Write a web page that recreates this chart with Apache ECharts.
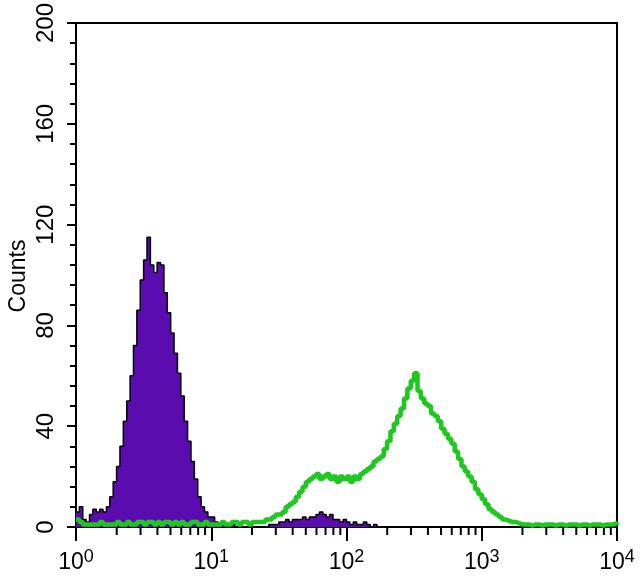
<!DOCTYPE html>
<html><head><meta charset="utf-8">
<script src="https://cdn.jsdelivr.net/npm/echarts@6/dist/echarts.min.js"></script>
<style>html,body{margin:0;padding:0;background:#fff}#c{width:640px;height:577px}</style>
</head><body><div id="c"></div>
<script>
// Histogram bins on a log10 scale: bin i starts at binStartLog + i*binWidthLog decades
const binStartLog = 0;
const binWidthLog = 0.025;

// Isotype control (purple filled histogram)
const isotypeCounts = [
  6, 8, 3, 2, 5, 7, 6, 7, 6, 8,
  12, 18, 24, 32, 42, 50, 60, 72, 86, 98,
  106, 115, 104, 101, 105, 104, 93, 85, 77, 69,
  61, 52, 42, 34, 26, 19, 12, 8, 6, 4,
  4, 2, 1, 1, 0, 0, 1, 0, 0, 0,
  0, 0, 0, 0, 0, 0, 0, 1,
  1, 1, 2, 2, 3, 2, 3, 3, 3, 4, 3, 4, 4, 5, 6, 5, 4, 5, 3, 3, 2, 3, 2, 1, 2, 1, 1, 2, 1, 0, 1, 0,
  0, 0, 0, 0, 0, 0, 0, 0, 0, 0,
  0, 0, 0, 0, 0, 0, 0, 0, 0, 0,
  0, 0, 0, 0, 0, 0, 0, 0, 0, 0,
  0, 0, 0, 0, 0, 0, 0, 0, 0, 0,
  0, 0, 0, 0, 0, 0, 0, 0, 0, 0,
  0, 0, 0, 0, 0, 0, 0, 0, 0, 0,
  0, 0, 0, 0, 0, 0, 0, 0, 0, 0,
  0
];

// Antibody stained sample (green outline)
const antibodyCounts = [
  3, 2, 1, 1, 1, 1, 1, 2, 1, 1,
  1, 1, 2, 1, 1, 2, 1, 1, 2, 2,
  1, 2, 2, 1, 2, 1, 2, 2, 1, 2,
  1, 2, 1, 1, 2, 2, 1, 1, 2, 1,
  1, 1, 1, 2, 1, 1, 2, 2, 1, 2,
  2, 1,
  2, 2, 2, 2, 3, 3, 4, 5, 5, 6, 8, 9, 10, 12, 14, 16, 18, 19,
  20, 21, 19, 20, 21, 19, 20, 18, 20, 19, 20, 18, 20, 19, 21, 22, 23, 24, 26, 27,
  28, 31, 34, 38, 41, 44, 47, 51, 55, 58, 61,
  54, 51, 49, 48, 45, 44, 42, 39, 37, 35, 33, 30, 27, 24, 22, 20, 18, 15, 13,
  11, 9, 7, 6, 5, 4, 3, 2.5, 2, 2, 1.5, 1,
  1, 1, 0.5, 1, 1, 0.5, 1, 1, 1, 0.5, 1, 1, 0.5, 1, 1, 1, 0.5, 1, 1, 0.5,
  1, 1, 1, 0.5, 1, 1, 1, 1.5, 1
];

const xTickExponents = ['0', '1', '2', '3', '4'];
const minorMultipliers = [2, 3, 4, 5, 6, 7, 8, 9];
const yAxisTitle = 'Counts';

const toPairs = arr => arr.map((c, i) => [binStartLog + i * binWidthLog, c]);
const minorTickData = [];
for (let d = 0; d < xTickExponents.length - 1; d++) {
  for (const m of minorMultipliers) minorTickData.push([d + Math.log10(m), 0]);
}

const chart = echarts.init(document.getElementById('c'), null, {renderer: 'canvas'});
const font = 'Liberation Sans, Arial, sans-serif';
chart.setOption({
  animation: false,
  backgroundColor: '#fff',
  grid: {left: 76, right: 23, top: 23, bottom: 50, show: true, borderColor: '#000', borderWidth: 2, backgroundColor: 'transparent'},
  xAxis: {
    type: 'value', min: 0, max: 4, interval: 1,
    axisLine: {lineStyle: {color: '#000', width: 2}},
    axisTick: {length: 14, lineStyle: {color: '#000', width: 2}},
    splitLine: {show: false},
    axisLabel: {
      margin: 21,
      formatter: v => '{b|10}{s|' + xTickExponents[Math.round(v)] + '}',
      rich: {
        b: {fontSize: 23, fontFamily: font, color: '#000'},
        s: {fontSize: 18, fontFamily: font, color: '#000', padding: [0, 0, 12, 0], verticalAlign: 'bottom'}
      }
    }
  },
  yAxis: {
    type: 'value', min: 0, max: 200, interval: 40,
    axisLine: {show: true, lineStyle: {color: '#000', width: 2}},
    axisTick: {show: true, length: 9, lineStyle: {color: '#000', width: 2}},
    minorTick: {show: true, splitNumber: 5, length: 6, lineStyle: {color: '#000', width: 2}},
    splitLine: {show: false},
    axisLabel: {rotate: 90, margin: 18, fontSize: 24, fontFamily: font, color: '#000'}
  },
  graphic: [{
    type: 'text', x: 19, y: 276, rotation: Math.PI / 2,
    style: {text: yAxisTitle, fontSize: 23, fontFamily: font, fill: '#000', align: 'center', verticalAlign: 'middle'}
  }],
  series: [
    {
      type: 'line', data: toPairs(isotypeCounts), step: 'end', symbol: 'none',
      lineStyle: {color: '#000', width: 1.5},
      areaStyle: {color: '#5a0cae', opacity: 1}, z: 2
    },
    {
      type: 'line', data: toPairs(antibodyCounts), step: 'end', symbol: 'none',
      lineStyle: {color: '#1ec81e', width: 4.5}, z: 3
    },
    {
      type: 'custom', data: minorTickData, clip: false, silent: true, z: 1,
      renderItem: (params, api) => {
        const p = api.coord([api.value(0), 0]);
        return {type: 'line', shape: {x1: p[0], y1: p[1] + 1, x2: p[0], y2: p[1] + 8}, style: {stroke: '#000', lineWidth: 2}};
      }
    }
  ]
});
</script>
</body></html>
